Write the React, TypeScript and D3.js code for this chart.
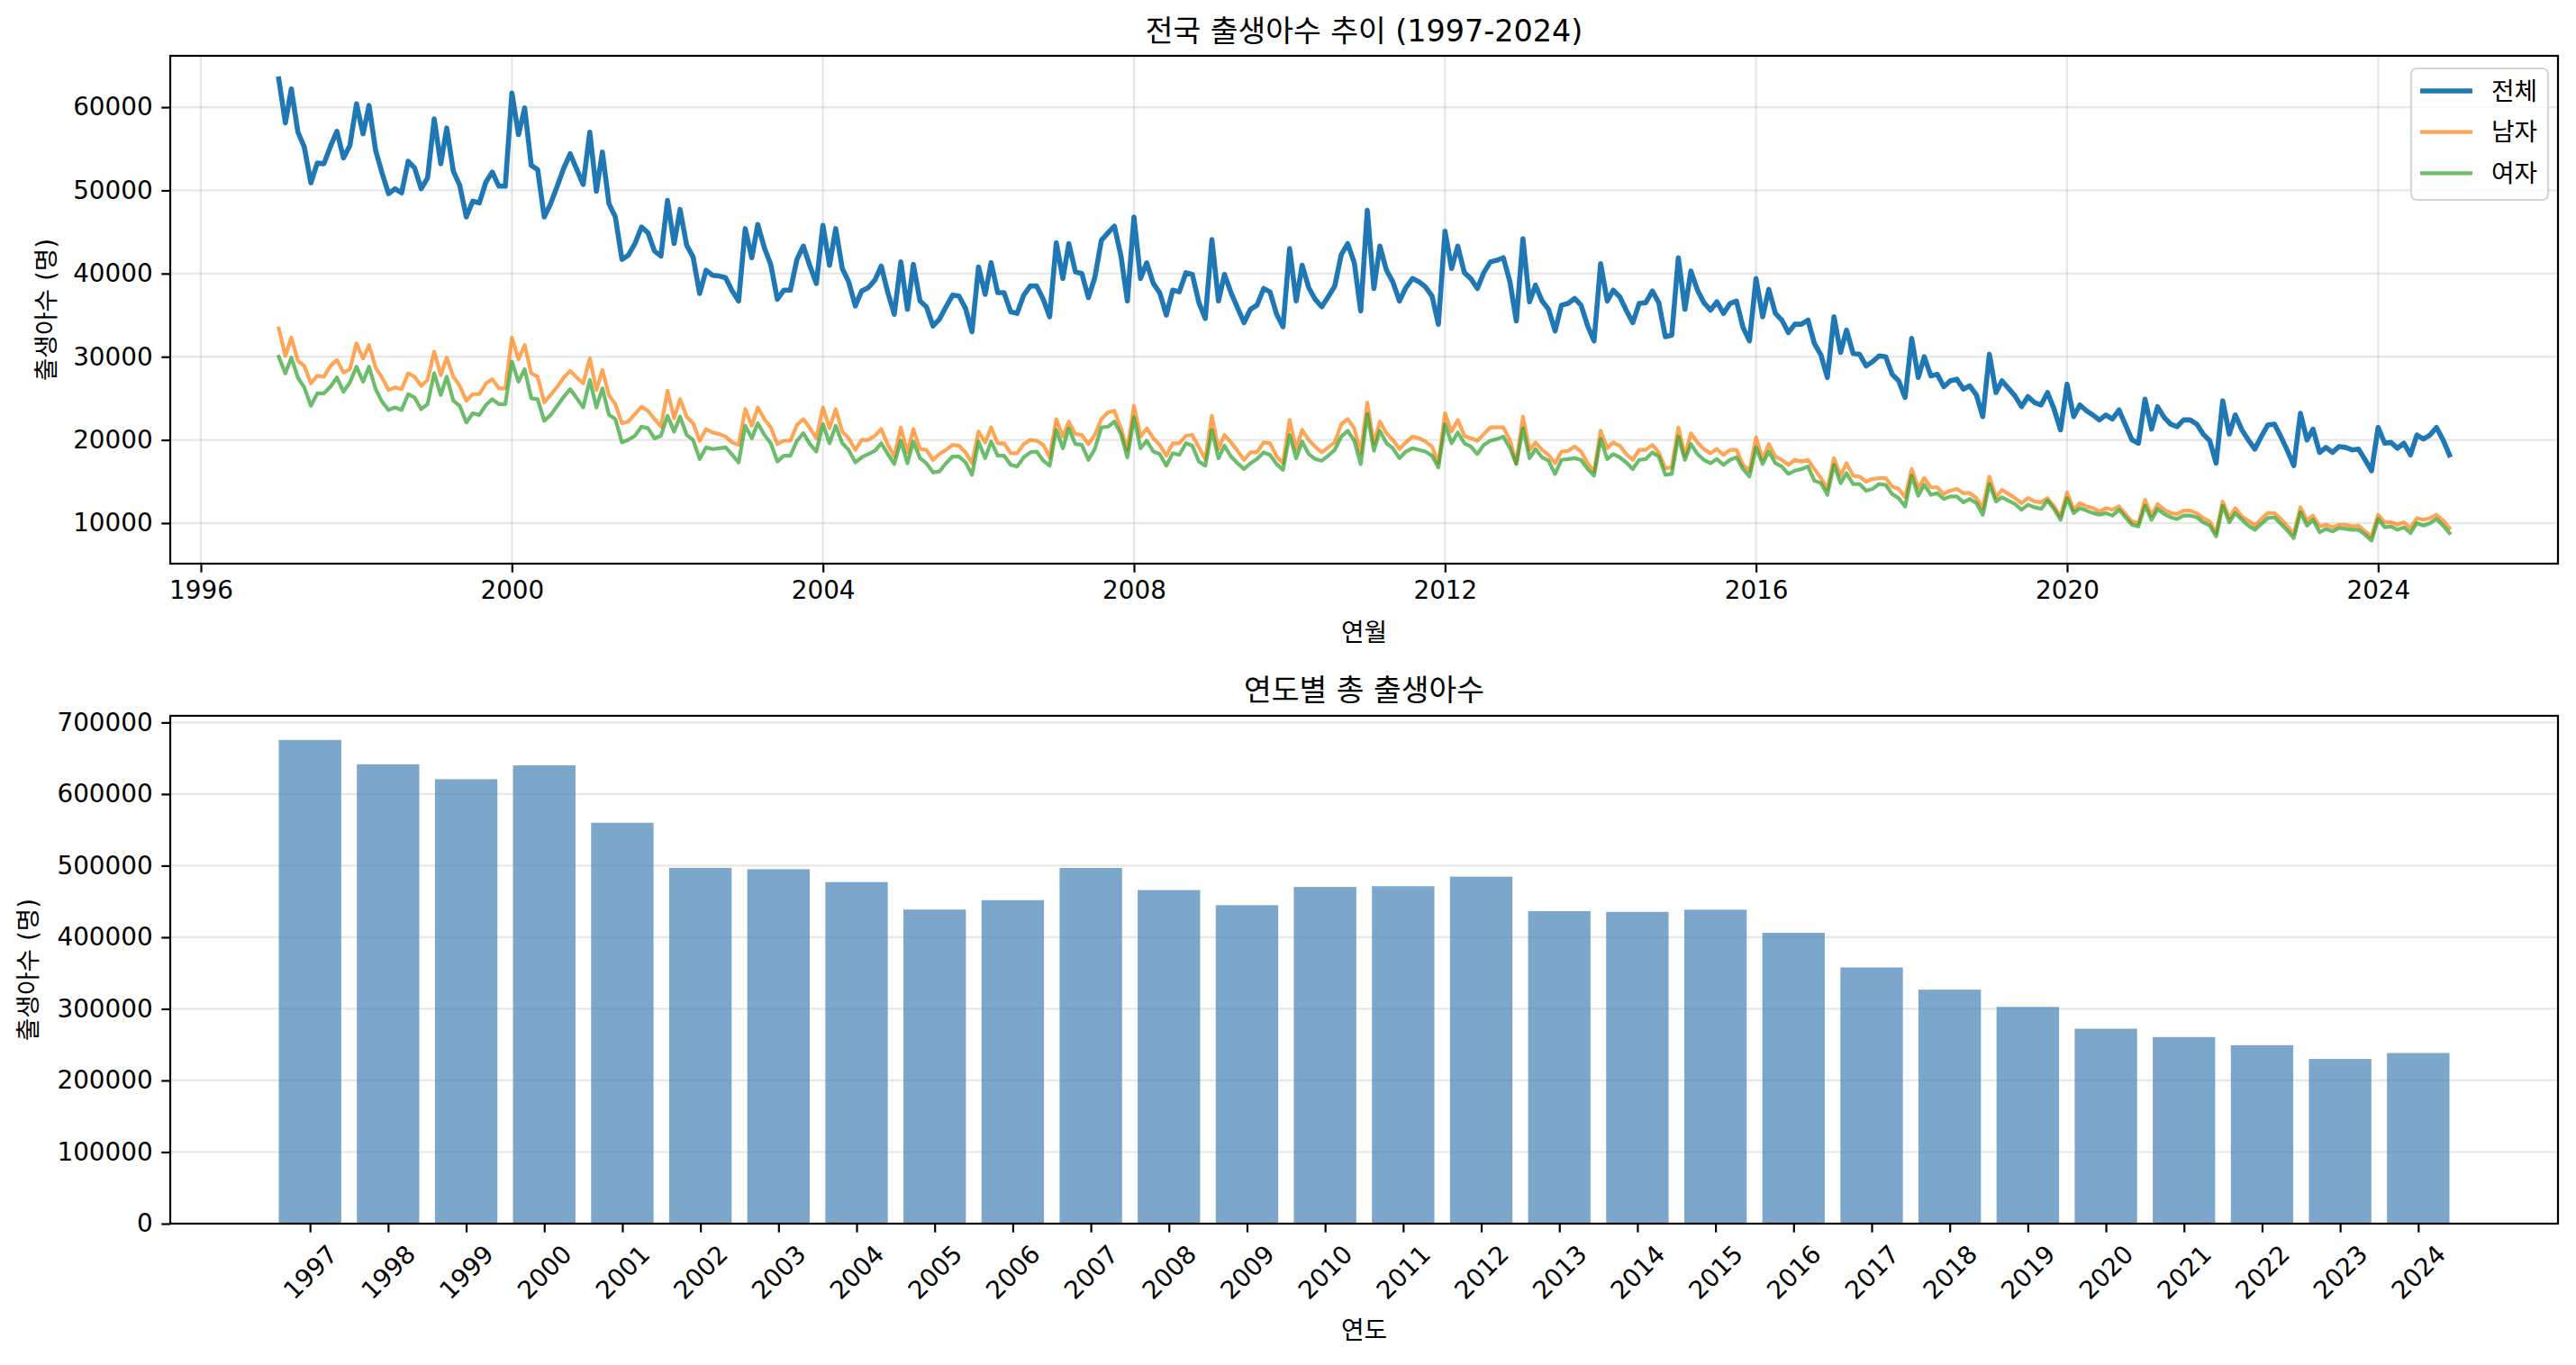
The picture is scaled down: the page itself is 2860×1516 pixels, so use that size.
import React, { useEffect, useRef } from 'react';
import * as d3 from 'd3';

// monthly births (thousands), Jan 1997 .. Dec 2024
const startYear = 1997;

const totalK = [
  63.4, 58.1, 62.2, 57.0, 55.2, 50.9, 53.3, 53.2, 55.3, 57.1, 53.9, 55.4,
  60.4, 56.8, 60.2, 54.8, 52.1, 49.6, 50.2, 49.7, 53.5, 52.7, 50.2, 51.5,
  58.6, 53.2, 57.5, 52.3, 50.6, 46.8, 48.7, 48.5, 51.0, 52.2, 50.5, 50.5,
  61.7, 56.7, 59.9, 53.0, 52.5, 46.8, 48.4, 50.5, 52.7, 54.4, 52.5, 50.7,
  57.0, 49.9, 54.6, 48.4, 46.8, 41.7, 42.2, 43.6, 45.6, 44.9, 42.7, 42.1,
  48.8, 43.6, 47.7, 43.4, 42.0, 37.6, 40.4, 39.8, 39.7, 39.5, 37.9, 36.7,
  45.4, 41.9, 45.9, 43.1, 41.1, 36.9, 38.0, 38.0, 41.7, 43.3, 40.9, 38.8,
  45.8, 41.0, 45.4, 40.6, 39.0, 36.1, 37.9, 38.3, 39.2, 40.9, 37.7, 35.1,
  41.4, 35.7, 41.1, 36.7, 36.0, 33.7, 34.5, 36.0, 37.4, 37.3, 35.8, 33.0,
  40.8, 37.5, 41.3, 37.7, 37.7, 35.4, 35.2, 37.4, 38.5, 38.5, 36.9, 34.8,
  43.7, 39.4, 43.6, 40.2, 40.0, 37.1, 39.5, 44.0, 44.9, 45.7, 42.1, 36.7,
  46.8, 39.4, 41.3, 38.8, 37.7, 35.0, 38.0, 37.8, 40.1, 39.9, 36.5, 34.6,
  44.1, 36.7, 39.9, 37.7, 35.9, 34.1, 35.7, 36.2, 38.2, 37.8, 35.1, 33.6,
  43.0, 36.7, 41.0, 38.3, 36.9, 36.0, 37.2, 38.5, 42.3, 43.6, 41.3, 35.5,
  47.6, 38.2, 43.3, 40.4, 39.0, 36.7, 38.3, 39.4, 39.0, 38.4, 37.3, 33.9,
  45.1, 40.6, 43.3, 40.1, 39.4, 38.2, 40.1, 41.4, 41.6, 41.9, 39.0, 34.3,
  44.2, 36.6, 38.6, 36.7, 35.7, 33.1, 36.2, 36.4, 37.0, 36.2, 33.7, 31.9,
  41.2, 36.7, 38.0, 37.2, 35.6, 34.1, 36.4, 36.5, 37.9, 36.5, 32.4, 32.6,
  41.9, 35.7, 40.3, 38.0, 36.5, 35.6, 36.6, 35.2, 36.4, 36.7, 33.5, 31.9,
  39.4, 34.8, 38.1, 35.2, 34.4, 32.9, 33.9, 33.9, 34.4, 31.6, 30.2, 27.5,
  34.8, 30.5, 33.2, 30.4, 30.3, 28.9, 29.4, 30.1, 30.0, 27.9, 27.1, 25.1,
  32.2, 27.5, 30.0, 27.7, 27.9, 26.4, 27.1, 27.3, 26.1, 26.5, 25.4, 22.8,
  30.3, 25.7, 27.1, 26.2, 25.3, 24.0, 25.2, 24.5, 24.2, 25.7, 23.7, 21.2,
  26.7, 22.8, 24.2, 23.5, 23.0, 22.4, 23.0, 22.5, 23.6, 21.8, 20.0, 19.6,
  24.9, 21.3, 24.0, 22.7, 21.9, 21.6, 22.4, 22.4, 21.9, 20.7, 19.9, 17.2,
  24.7, 20.7, 23.0, 21.2, 20.0, 18.9, 20.4, 21.8, 21.9, 20.4, 18.7, 16.9,
  23.2, 20.0, 21.3, 18.5, 19.1, 18.5, 19.2, 19.1, 18.8, 18.9, 17.6, 16.3,
  21.5, 19.6, 19.7, 19.0, 19.6, 18.2, 20.6, 20.1, 20.6, 21.5, 20.0, 18.2,
];

const maleK = [
  33.4, 30.1, 32.3, 29.5, 28.9, 26.8, 27.7, 27.6, 28.9, 29.6, 28.1, 28.5,
  31.6, 29.8, 31.4, 28.7, 27.5, 26.0, 26.3, 26.1, 28.0, 27.6, 26.5, 27.2,
  30.6, 27.8, 29.9, 27.6, 26.5, 24.7, 25.5, 25.5, 26.8, 27.3, 26.2, 26.2,
  32.3, 29.7, 31.4, 28.0, 27.6, 24.5, 25.4, 26.4, 27.5, 28.3, 27.5, 26.8,
  29.8, 26.0, 28.4, 25.4, 24.3, 22.0, 22.2, 23.1, 24.0, 23.5, 22.5, 21.6,
  25.9, 22.6, 24.9, 22.8, 22.0, 19.9, 21.3, 20.9, 20.7, 20.4, 19.7, 19.4,
  23.7, 21.7, 23.9, 22.5, 21.5, 19.5, 19.9, 19.9, 21.8, 22.5, 21.4, 20.2,
  23.9, 21.4, 23.7, 21.0, 20.2, 18.8, 20.0, 20.0, 20.5, 21.3, 19.4, 18.0,
  21.5, 18.5, 21.3, 18.9, 18.8, 17.6, 18.3, 18.8, 19.4, 19.3, 18.5, 17.2,
  21.0, 19.7, 21.5, 19.6, 19.6, 18.4, 18.4, 19.5, 20.0, 19.9, 19.4, 17.9,
  22.5, 20.4, 22.2, 20.7, 20.6, 19.5, 20.6, 22.5, 23.3, 23.5, 21.4, 18.8,
  24.1, 20.4, 21.4, 20.2, 19.4, 18.1, 19.6, 19.6, 20.5, 20.6, 19.1, 17.7,
  22.9, 18.9, 20.6, 19.7, 18.7, 17.6, 18.5, 18.5, 19.7, 19.6, 18.0, 17.2,
  22.4, 18.9, 21.2, 20.0, 19.2, 18.5, 19.1, 19.7, 21.9, 22.5, 21.4, 18.4,
  24.5, 19.5, 22.2, 20.8, 20.0, 18.9, 19.7, 20.4, 20.2, 19.8, 19.2, 17.2,
  23.2, 21.0, 22.4, 20.5, 20.2, 19.9, 20.7, 21.5, 21.5, 21.5, 20.0, 17.2,
  22.8, 18.8, 19.7, 18.8, 18.2, 17.2, 18.6, 18.7, 19.2, 18.6, 17.2, 16.2,
  21.1, 19.0, 19.7, 19.3, 18.3, 17.6, 18.8, 18.8, 19.4, 18.5, 16.6, 16.7,
  21.5, 18.1, 20.8, 19.7, 18.9, 18.4, 18.9, 18.2, 18.8, 18.8, 17.0, 16.3,
  20.3, 17.7, 19.5, 18.0, 17.6, 17.0, 17.6, 17.4, 17.6, 16.5, 15.4, 14.1,
  17.8, 15.7, 17.2, 15.7, 15.6, 15.0, 15.3, 15.4, 15.4, 14.4, 14.1, 13.1,
  16.5, 14.2, 15.4, 14.3, 14.3, 13.5, 13.9, 14.1, 13.6, 13.6, 13.0, 11.8,
  15.6, 13.1, 14.0, 13.5, 13.0, 12.4, 13.0, 12.6, 12.5, 13.0, 12.0, 10.8,
  13.7, 11.6, 12.4, 12.0, 11.8, 11.4, 11.8, 11.6, 12.0, 11.1, 10.2, 10.0,
  12.8, 10.9, 12.3, 11.6, 11.2, 11.1, 11.5, 11.5, 11.2, 10.6, 10.2, 8.8,
  12.6, 10.6, 11.8, 10.8, 10.3, 9.7, 10.5, 11.2, 11.2, 10.5, 9.6, 8.7,
  11.9, 10.3, 10.9, 9.6, 9.8, 9.5, 9.8, 9.8, 9.6, 9.7, 9.0, 8.4,
  11.0, 10.1, 10.1, 9.8, 10.1, 9.4, 10.6, 10.4, 10.6, 11.0, 10.3, 9.4,
];

const femaleK = [
  30.0, 28.0, 29.9, 27.5, 26.3, 24.1, 25.6, 25.6, 26.4, 27.5, 25.8, 26.9,
  28.8, 27.0, 28.8, 26.1, 24.6, 23.6, 23.9, 23.6, 25.5, 25.1, 23.7, 24.3,
  28.0, 25.4, 27.6, 24.7, 24.1, 22.1, 23.2, 23.0, 24.2, 24.9, 24.3, 24.3,
  29.4, 27.0, 28.5, 25.0, 24.9, 22.3, 23.0, 24.1, 25.2, 26.1, 25.0, 23.9,
  27.2, 23.9, 26.2, 23.0, 22.5, 19.7, 20.0, 20.5, 21.6, 21.4, 20.2, 20.5,
  22.9, 21.0, 22.8, 20.6, 20.0, 17.7, 19.1, 18.9, 19.0, 19.1, 18.2, 17.3,
  21.7, 20.2, 22.0, 20.6, 19.6, 17.4, 18.1, 18.1, 19.9, 20.8, 19.5, 18.6,
  21.9, 19.6, 21.7, 19.6, 18.8, 17.3, 17.9, 18.3, 18.7, 19.6, 18.3, 17.1,
  19.9, 17.2, 19.8, 17.8, 17.2, 16.1, 16.2, 17.2, 18.0, 18.0, 17.3, 15.8,
  19.8, 17.8, 19.8, 18.1, 18.1, 17.0, 16.8, 17.9, 18.5, 18.6, 17.5, 16.9,
  21.2, 19.0, 21.4, 19.5, 19.4, 17.6, 18.9, 21.5, 21.6, 22.2, 20.7, 17.9,
  22.7, 19.0, 19.9, 18.6, 18.3, 16.9, 18.4, 18.2, 19.6, 19.3, 17.4, 16.9,
  21.2, 17.8, 19.3, 18.0, 17.2, 16.5, 17.2, 17.7, 18.5, 18.2, 17.1, 16.4,
  20.6, 17.8, 19.8, 18.3, 17.7, 17.5, 18.1, 18.8, 20.4, 21.1, 19.9, 17.1,
  23.1, 18.7, 21.1, 19.6, 19.0, 17.8, 18.6, 19.0, 18.8, 18.6, 18.1, 16.7,
  21.9, 19.6, 20.9, 19.6, 19.2, 18.3, 19.4, 19.9, 20.1, 20.4, 19.0, 17.1,
  21.4, 17.8, 18.9, 17.9, 17.5, 15.9, 17.6, 17.7, 17.8, 17.6, 16.5, 15.7,
  20.1, 17.7, 18.3, 17.9, 17.3, 16.5, 17.6, 17.7, 18.5, 18.0, 15.8, 15.9,
  20.4, 17.6, 19.5, 18.3, 17.6, 17.2, 17.7, 17.0, 17.6, 17.9, 16.5, 15.6,
  19.1, 17.1, 18.6, 17.2, 16.8, 15.9, 16.3, 16.5, 16.8, 15.1, 14.8, 13.4,
  17.0, 14.8, 16.0, 14.7, 14.7, 13.9, 14.1, 14.7, 14.6, 13.5, 13.0, 12.0,
  15.7, 13.3, 14.6, 13.4, 13.6, 12.9, 13.2, 13.2, 12.5, 12.9, 12.4, 11.0,
  14.7, 12.6, 13.1, 12.7, 12.3, 11.6, 12.2, 11.9, 11.7, 12.7, 11.7, 10.4,
  13.0, 11.2, 11.8, 11.5, 11.2, 11.0, 11.2, 10.9, 11.6, 10.7, 9.8, 9.6,
  12.1, 10.4, 11.7, 11.1, 10.7, 10.5, 10.9, 10.9, 10.7, 10.1, 9.7, 8.4,
  12.1, 10.1, 11.2, 10.4, 9.7, 9.2, 9.9, 10.6, 10.7, 9.9, 9.1, 8.2,
  11.3, 9.7, 10.4, 8.9, 9.3, 9.0, 9.4, 9.3, 9.2, 9.2, 8.6, 7.9,
  10.5, 9.5, 9.6, 9.2, 9.5, 8.8, 10.0, 9.7, 10.0, 10.5, 9.7, 8.8,
];

const barYears = [
  1997, 1998, 1999, 2000, 2001, 2002, 2003, 2004, 2005, 2006, 2007, 2008, 2009, 2010,
  2011, 2012, 2013, 2014, 2015, 2016, 2017, 2018, 2019, 2020, 2021, 2022, 2023, 2024,
];
const annualBirths = [
  675500, 641600, 620700, 640100, 559900, 496900, 495000, 477000, 438700, 451800,
  496800, 465900, 444800, 470200, 471300, 484600, 436500, 435400, 438400, 406200,
  357800, 326800, 302700, 272300, 260600, 249200, 230000, 238300,
];

const topYTicks = [10000, 20000, 30000, 40000, 50000, 60000];
const topXTickYears = [1996, 2000, 2004, 2008, 2012, 2016, 2020, 2024];
const bottomYTicks = [0, 100000, 200000, 300000, 400000, 500000, 600000, 700000];

const seriesNames = ['전체', '남자', '여자'];

const W = 2860;
const H = 1516;
const FONT = "'DejaVu Sans', 'Noto Sans CJK KR', sans-serif";
const FS = 27.8;
const TITLE_FS = 33.4;
const TICK = 9.7;
const PAD = 9.7;
const LW = 2.2;

const App: React.FC = () => {
  const svgRef = useRef<SVGSVGElement>(null);

  useEffect(() => {
    if (!svgRef.current) return;
    const svg = d3.select(svgRef.current);
    svg.selectAll('*').remove();
    svg.attr('font-family', FONT);

    svg.append('rect').attr('width', W).attr('height', H).attr('fill', '#ffffff');

    // ---------- top: monthly lines ----------
    const top = { left: 189, right: 2840, top: 62, bottom: 626 };
    const dates = totalK.map((_, i) => new Date(startYear + Math.floor(i / 12), i % 12, 1));
    const t0 = +dates[0];
    const t1 = +dates[dates.length - 1];
    const tpad = (t1 - t0) * 0.05;
    const x = d3.scaleTime()
      .domain([new Date(t0 - tpad), new Date(t1 + tpad)])
      .range([top.left, top.right]);

    const allVals = [...totalK, ...maleK, ...femaleK].map(v => v * 1000);
    const lo = d3.min(allVals) as number;
    const hi = d3.max(allVals) as number;
    const vpad = (hi - lo) * 0.05;
    const y = d3.scaleLinear().domain([lo - vpad, hi + vpad]).range([top.bottom, top.top]);

    const gTop = svg.append('g');

    // grid
    const xTickDates = topXTickYears.map(yr => new Date(yr, 0, 1));
    gTop.selectAll('.vgrid')
      .data(xTickDates)
      .enter().append('line')
      .attr('x1', d => x(d)).attr('x2', d => x(d))
      .attr('y1', top.top).attr('y2', top.bottom)
      .attr('stroke', '#b0b0b0').attr('stroke-opacity', 0.3).attr('stroke-width', LW);
    gTop.selectAll('.hgrid')
      .data(topYTicks)
      .enter().append('line')
      .attr('x1', top.left).attr('x2', top.right)
      .attr('y1', d => y(d)).attr('y2', d => y(d))
      .attr('stroke', '#b0b0b0').attr('stroke-opacity', 0.3).attr('stroke-width', LW);

    const series = [
      { name: seriesNames[0], values: totalK, color: '#1f77b4', width: 5.6, opacity: 1 },
      { name: seriesNames[1], values: maleK, color: '#ff7f0e', width: 4.2, opacity: 0.7 },
      { name: seriesNames[2], values: femaleK, color: '#2ca02c', width: 4.2, opacity: 0.7 },
    ];

    const line = d3.line<number>()
      .x((_, i) => x(dates[i]))
      .y(d => y(d * 1000));

    series.forEach(s => {
      gTop.append('path')
        .datum(s.values)
        .attr('fill', 'none')
        .attr('stroke', s.color)
        .attr('stroke-opacity', s.opacity)
        .attr('stroke-width', s.width)
        .attr('stroke-linejoin', 'round')
        .attr('stroke-linecap', 'square')
        .attr('d', line);
    });

    // axes
    const xAxisTop = gTop.append('g')
      .attr('transform', `translate(0,${top.bottom})`)
      .call(d3.axisBottom(x).tickValues(xTickDates).tickFormat(d3.timeFormat('%Y') as any)
        .tickSize(TICK).tickPadding(PAD).tickSizeOuter(0));
    const yAxisTop = gTop.append('g')
      .attr('transform', `translate(${top.left},0)`)
      .call(d3.axisLeft(y).tickValues(topYTicks).tickFormat(d3.format('d') as any)
        .tickSize(TICK).tickPadding(PAD).tickSizeOuter(0));
    [xAxisTop, yAxisTop].forEach(a => {
      a.attr('font-family', FONT).attr('font-size', FS);
      a.select('.domain').remove();
      a.selectAll('.tick line').attr('stroke', '#000').attr('stroke-width', LW);
      a.selectAll('.tick text').attr('fill', '#000');
    });

    gTop.append('rect')
      .attr('x', top.left).attr('y', top.top)
      .attr('width', top.right - top.left).attr('height', top.bottom - top.top)
      .attr('fill', 'none').attr('stroke', '#000').attr('stroke-width', LW);

    gTop.append('text')
      .attr('x', (top.left + top.right) / 2).attr('y', 46)
      .attr('text-anchor', 'middle').attr('font-size', TITLE_FS)
      .text('전국 출생아수 추이 (1997-2024)');
    gTop.append('text')
      .attr('x', (top.left + top.right) / 2).attr('y', 702)
      .attr('text-anchor', 'middle').attr('dominant-baseline', 'central').attr('font-size', FS)
      .text('연월');
    gTop.append('text')
      .attr('transform', `translate(51,${(top.top + top.bottom) / 2}) rotate(-90)`)
      .attr('text-anchor', 'middle').attr('dominant-baseline', 'central').attr('font-size', FS)
      .text('출생아수 (명)');

    // legend
    const lg = gTop.append('g');
    lg.append('rect')
      .attr('x', 2677).attr('y', 76).attr('width', 152).attr('height', 146)
      .attr('rx', 6).attr('fill', '#ffffff').attr('fill-opacity', 0.8)
      .attr('stroke', '#cccccc').attr('stroke-opacity', 0.8).attr('stroke-width', LW);
    series.forEach((s, i) => {
      const ly = 101 + i * 45.7;
      lg.append('line')
        .attr('x1', 2687).attr('x2', 2745).attr('y1', ly).attr('y2', ly)
        .attr('stroke', s.color).attr('stroke-opacity', s.opacity).attr('stroke-width', s.width);
      lg.append('text')
        .attr('x', 2766).attr('y', ly)
        .attr('dominant-baseline', 'central').attr('font-size', FS)
        .text(s.name);
    });

    // ---------- bottom: annual bars ----------
    const bot = { left: 189, right: 2840, top: 795, bottom: 1359 };
    const barW = 0.8;
    const bx0 = (d3.min(barYears) as number) - barW / 2;
    const bx1 = (d3.max(barYears) as number) + barW / 2;
    const bpad = (bx1 - bx0) * 0.05;
    const xb = d3.scaleLinear().domain([bx0 - bpad, bx1 + bpad]).range([bot.left, bot.right]);
    const yb = d3.scaleLinear()
      .domain([0, (d3.max(annualBirths) as number) * 1.05])
      .range([bot.bottom, bot.top]);

    const gBot = svg.append('g');
    gBot.selectAll('.bgrid')
      .data(bottomYTicks)
      .enter().append('line')
      .attr('x1', bot.left).attr('x2', bot.right)
      .attr('y1', d => yb(d)).attr('y2', d => yb(d))
      .attr('stroke', '#b0b0b0').attr('stroke-opacity', 0.3).attr('stroke-width', LW);

    gBot.selectAll('.bar')
      .data(barYears)
      .enter().append('rect')
      .attr('x', d => xb(d - barW / 2))
      .attr('width', d => xb(d + barW / 2) - xb(d - barW / 2))
      .attr('y', (_, i) => yb(annualBirths[i]))
      .attr('height', (_, i) => yb(0) - yb(annualBirths[i]))
      .attr('fill', 'steelblue')
      .attr('fill-opacity', 0.7);

    const xAxisBot = gBot.append('g')
      .attr('transform', `translate(0,${bot.bottom})`)
      .call(d3.axisBottom(xb).tickValues(barYears).tickFormat(d3.format('d') as any)
        .tickSize(TICK).tickPadding(PAD).tickSizeOuter(0));
    const yAxisBot = gBot.append('g')
      .attr('transform', `translate(${bot.left},0)`)
      .call(d3.axisLeft(yb).tickValues(bottomYTicks).tickFormat(d3.format('d') as any)
        .tickSize(TICK).tickPadding(PAD).tickSizeOuter(0));
    [xAxisBot, yAxisBot].forEach(a => {
      a.attr('font-family', FONT).attr('font-size', FS);
      a.select('.domain').remove();
      a.selectAll('.tick line').attr('stroke', '#000').attr('stroke-width', LW);
      a.selectAll('.tick text').attr('fill', '#000');
    });
    xAxisBot.selectAll('.tick text')
      .attr('y', 0).attr('dy', null)
      .attr('text-anchor', 'middle')
      .attr('dominant-baseline', 'central')
      .attr('transform', 'translate(0,54) rotate(-45)');

    gBot.append('rect')
      .attr('x', bot.left).attr('y', bot.top)
      .attr('width', bot.right - bot.left).attr('height', bot.bottom - bot.top)
      .attr('fill', 'none').attr('stroke', '#000').attr('stroke-width', LW);

    gBot.append('text')
      .attr('x', (bot.left + bot.right) / 2).attr('y', 778)
      .attr('text-anchor', 'middle').attr('font-size', TITLE_FS)
      .text('연도별 총 출생아수');
    gBot.append('text')
      .attr('x', (bot.left + bot.right) / 2).attr('y', 1477)
      .attr('text-anchor', 'middle').attr('dominant-baseline', 'central').attr('font-size', FS)
      .text('연도');
    gBot.append('text')
      .attr('transform', `translate(31,${(bot.top + bot.bottom) / 2}) rotate(-90)`)
      .attr('text-anchor', 'middle').attr('dominant-baseline', 'central').attr('font-size', FS)
      .text('출생아수 (명)');
  }, []);

  return (
    <svg
      ref={svgRef}
      width={W}
      height={H}
      style={{ position: 'absolute', left: 0, top: 0, display: 'block' }}
    />
  );
};

export default App;
